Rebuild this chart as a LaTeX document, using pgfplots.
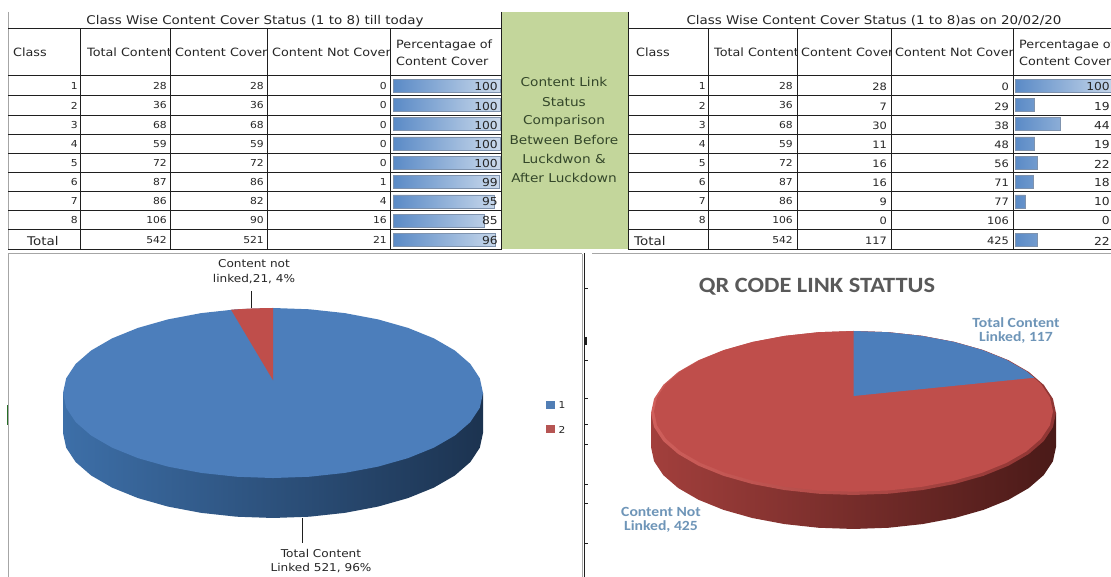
\documentclass[border=0pt]{standalone}
\usepackage{pgfplots}
\pgfplotsset{compat=1.18}
\usepackage{pgfplotstable}
\usepackage{fontspec}
\setmainfont[FakeStretch=1.12]{DejaVu Sans}
\newfontfamily\carl[FakeStretch=1.12]{Carlito}
\definecolor{gridc}{HTML}{1F1F1F}
\definecolor{framec}{HTML}{A6A6A6}
\definecolor{txt}{HTML}{262626}
\definecolor{greenc}{HTML}{C3D69B}
\definecolor{greent}{HTML}{34472A}
\definecolor{bluetop}{HTML}{4C7EBB}
\definecolor{redtop}{HTML}{BF4E4B}
\definecolor{barL}{HTML}{5A8AC6}
\definecolor{barR}{HTML}{CBDAEC}
\definecolor{barD}{HTML}{7F93AE}
\definecolor{lblblue}{HTML}{6E95B8}
\definecolor{sbL}{HTML}{3D6FA8}
\definecolor{sbM}{HTML}{2F5885}
\definecolor{sbR}{HTML}{1C3350}
\definecolor{srL}{HTML}{A23F3C}
\definecolor{srM}{HTML}{7A2F2C}
\definecolor{srR}{HTML}{4A1A18}
\definecolor{rimL}{HTML}{CF5F5B}
\definecolor{rimM}{HTML}{D86E6A}
\definecolor{rimR}{HTML}{8F3533}
\pgfplotstableread{
x y
0 1
0.1736 0.9848
0.3420 0.9397
0.5 0.8660
0.6428 0.7660
0.7660 0.6428
0.8660 0.5
0.9397 0.3420
0.9848 0.1736
1 0
0.9848 -0.1736
0.9397 -0.3420
0.8660 -0.5
0.7660 -0.6428
0.6428 -0.7660
0.5 -0.8660
0.3420 -0.9397
0.1736 -0.9848
0 -1
-0.1736 -0.9848
-0.3420 -0.9397
-0.5 -0.8660
-0.6428 -0.7660
-0.7660 -0.6428
-0.8660 -0.5
-0.9397 -0.3420
-0.9848 -0.1736
-1 0
-0.9848 0.1736
-0.9397 0.3420
-0.8660 0.5
-0.7660 0.6428
-0.6428 0.7660
-0.5 0.8660
-0.3420 0.9397
-0.1736 0.9848
}\unitpie
\pgfplotsset{baraxis/.style={scale only axis,hide axis,xmin=0,ymin=0.5,ymax=9.5,y dir=reverse,anchor=south west,clip=false},
 pieaxis/.style={scale only axis,hide axis,xmin=-1,xmax=1,ymax=1,anchor=south west,clip=false}}
\newcommand\CH[4]{\begin{scope}\clip (#1,#3-10) rectangle (#2,#3+10);\node[anchor=west,inner sep=0pt,font=\fontsize{#4}{#4}\selectfont,text=txt] at (#1,#3) {\CHtext};\end{scope}}
\begin{document}
\begin{tikzpicture}
\path[use as bounding box,fill=white] (0,0) rectangle (1111pt,577pt);
\begin{scope}[shift={(0pt,577pt)},x=1pt,y=-1pt]
 \fill[greenc] (501,12) rectangle (628,249.5);
 % frames
 \draw[framec,line width=.8pt] (8,12)--(8,29) (8,29)--(8,250);
 \draw[framec,line width=.8pt] (8,253)--(582,253) (8,254)--(8,577) (582,254)--(582,577);
 \draw[framec,line width=.8pt] (592,253)--(1111,253);
 \draw[gridc,line width=.8pt] (584,253)--(584,577);
 \draw[gridc,line width=1pt] (501,12)--(501,250) (628,12)--(628,250);
 % table grid
 \foreach \y in {29,76,96,115.5,134.5,153.5,172.5,191.5,210.5,229.5,249.5}{
  \draw[gridc,line width=1pt] (8,\y)--(501,\y);
  \draw[gridc,line width=1pt] (628,\y)--(1111,\y);}
 \foreach \x in {80.5,170.5,267.5,390,708,797,891,1013}{
  \draw[gridc,line width=1pt] (\x,29)--(\x,249.5);}
 % stray ticks
 \foreach \y in {288,360,398,424,444,484,503,543}{\draw[gridc,line width=.7pt] (585,\y)--(588,\y);}
 \draw[gridc,line width=1.2pt] (586,337)--(586,345);
 \fill[black!60!green!70!gray] (6.5,405) rectangle (8,425);
\end{scope}
% percentage bars table 1
\begin{axis}[baraxis,at={(393pt,327.5pt)},width=107pt,height=173.5pt,xmax=100]
\addplot[xbar,bar width=13pt,bar shift=0pt,draw=barD,line width=.5pt,left color=barL,right color=barR] coordinates {(100,1) (100,2) (100,3) (100,4) (100,5) (99,6) (95,7) (85,8) (96,9)};
\end{axis}
% percentage bars table 2
\begin{axis}[baraxis,at={(1015pt,327.5pt)},width=103pt,height=173.5pt,xmax=100]
\addplot[xbar,bar width=13pt,bar shift=0pt,draw=barD,line width=.5pt,left color=barL,right color=barR] coordinates {(100,1) (19,2) (44,3) (19,4) (22,5) (18,6) (10,7) (22,9)};
\end{axis}
% pie 1
\begin{axis}[pieaxis,at={(63pt,59pt)},width=420pt,height=210pt,ymin=-1.47]
\addplot[draw=none,left color=sbL,middle color=sbM,right color=sbR] coordinates {
(-1,0) (-1,-.47) (-.9848,-.6436) (-.9397,-.812) (-.866,-.97) (-.766,-1.1128) (-.6428,-1.236) (-.5,-1.336) (-.342,-1.4097) (-.1736,-1.4548) (0,-1.47)
(.1736,-1.4548) (.342,-1.4097) (.5,-1.336) (.6428,-1.236) (.766,-1.1128) (.866,-.97) (.9397,-.812) (.9848,-.6436) (1,-.47) (1,0)} --cycle;
\addplot[draw=none,fill=bluetop] table[x=x,y=y] {\unitpie} --cycle;
\addplot[draw=none,fill=redtop] coordinates {(0,.15) (0,1) (-.1,.995) (-.2,.98)} --cycle;
\end{axis}
% pie 2
\begin{axis}[pieaxis,at={(651pt,48pt)},width=405pt,height=198pt,ymin=-1.415]
\addplot[draw=none,left color=srL,middle color=srM,right color=srR] coordinates {
(-1,0) (-1,-.415) (-.9848,-.5886) (-.9397,-.757) (-.866,-.915) (-.766,-1.0578) (-.6428,-1.181) (-.5,-1.281) (-.342,-1.3547) (-.1736,-1.3998) (0,-1.415)
(.1736,-1.3998) (.342,-1.3547) (.5,-1.281) (.6428,-1.181) (.766,-1.0578) (.866,-.915) (.9397,-.757) (.9848,-.5886) (1,-.415) (1,0)} --cycle;
\addplot[draw=none,left color=rimL,middle color=rimM,right color=rimR] table[x=x,y=y] {\unitpie} --cycle;
\addplot[draw=none,fill=redtop] table[x expr=\thisrow{x}*0.985,y expr=\thisrow{y}*0.98+0.02] {\unitpie} --cycle;
\addplot[draw=none,fill=bluetop] coordinates {(0,.207) (0,1) (.171,.985) (.337,.941) (.4925,.869) (.633,.771) (.7545,.650) (.853,.510) (.893,.43)} --cycle;
\end{axis}
\begin{scope}[shift={(0pt,577pt)},x=1pt,y=-1pt]
 % titles
 \node[font=\fontsize{12}{12}\selectfont,text=txt,inner sep=0pt] at (255,21) {Class Wise Content Cover Status (1 to 8) till today};
 \node[font=\fontsize{12}{12}\selectfont,text=txt,inner sep=0pt] at (874,21) {Class Wise Content Cover Status (1 to 8)as on 20/02/20};
 % headers
 \def\CHtext{Class}\CH{13}{80}{52}{11.4}
 \def\CHtext{Total Content}\CH{87}{169}{52}{11.4}
 \def\CHtext{Content Cover}\CH{175}{267}{52}{11.4}
 \def\CHtext{Content Not Cover}\CH{272}{389}{52}{11.4}
 \def\CHtext{Percentagae of}\CH{396}{500}{45}{11.4}
 \def\CHtext{Content Cover}\CH{396}{500}{61}{11.4}
 \def\CHtext{Class}\CH{636}{707}{52}{11.4}
 \def\CHtext{Total Content}\CH{714}{796}{52}{11.4}
 \def\CHtext{Content Cover}\CH{801}{890}{52}{11.4}
 \def\CHtext{Content Not Cover}\CH{895}{1012}{52}{11.4}
 \def\CHtext{Percentagae of}\CH{1019}{1111}{45}{11.4}
 \def\CHtext{Content Cover}\CH{1019}{1111}{61}{11.4}
 % table 1 rows
 \foreach \y/\a/\b/\c/\d/\e in {86/1/28/28/0/100,105.5/2/36/36/0/100,125/3/68/68/0/100,144/4/59/59/0/100,163/5/72/72/0/100,182/6/87/86/1/99,201/7/86/82/4/95,220/8/106/90/16/85,240/{}/542/521/21/96}{
  \node[anchor=east,inner sep=0pt,font=\fontsize{9.6}{10}\selectfont,text=txt] at (78,\y) {\a};
  \node[anchor=east,inner sep=0pt,font=\fontsize{9.6}{10}\selectfont,text=txt] at (167,\y) {\b};
  \node[anchor=east,inner sep=0pt,font=\fontsize{9.6}{10}\selectfont,text=txt] at (264,\y) {\c};
  \node[anchor=east,inner sep=0pt,font=\fontsize{9.6}{10}\selectfont,text=txt] at (387,\y) {\d};
  \node[anchor=east,inner sep=0pt,font=\fontsize{11}{12}\selectfont,text=txt] at (498,\y+1) {\e};
 }
 % table 2 rows
 \foreach \y/\a/\b/\c/\d/\e in {86/1/28/28/0/100,105.5/2/36/7/29/19,125/3/68/30/38/44,144/4/59/11/48/19,163/5/72/16/56/22,182/6/87/16/71/18,201/7/86/9/77/10,220/8/106/0/106/0,240/{}/542/117/425/22}{
  \node[anchor=east,inner sep=0pt,font=\fontsize{9.6}{10}\selectfont,text=txt] at (706,\y) {\a};
  \node[anchor=east,inner sep=0pt,font=\fontsize{9.6}{10}\selectfont,text=txt] at (793,\y) {\b};
  \node[anchor=east,inner sep=0pt,font=\fontsize{10.2}{11}\selectfont,text=txt] at (887,\y+1) {\c};
  \node[anchor=east,inner sep=0pt,font=\fontsize{10.2}{11}\selectfont,text=txt] at (1009,\y+1) {\d};
  \node[anchor=east,inner sep=0pt,font=\fontsize{11}{12}\selectfont,text=txt] at (1110,\y+1) {\e};
 }
 \node[anchor=west,inner sep=0pt,font=\fontsize{12}{12}\selectfont,text=txt] at (27,241) {Total};
 \node[anchor=west,inner sep=0pt,font=\fontsize{12}{12}\selectfont,text=txt] at (634,241) {Total};
 % green cell
 \foreach \y/\t in {82/Content Link,102/Status,121/Comparison,140/Between Before,159/Luckdwon \&,178/After Luckdown}{
  \node[font=\fontsize{12.2}{13}\selectfont,text=greent,inner sep=0pt] at (564,\y) {\t};}
 % pie 1 labels
 \draw[gridc,line width=.8pt] (251,291)--(251,308) (302,518)--(302,543);
 \node[font=\fontsize{10.8}{11}\selectfont,text=txt,inner sep=0pt] at (254,264) {Content not};
 \node[font=\fontsize{10.8}{11}\selectfont,text=txt,inner sep=0pt] at (254,279) {linked,21, 4\%};
 \node[font=\fontsize{10.8}{11}\selectfont,text=txt,inner sep=0pt] at (321,553) {Total Content};
 \node[font=\fontsize{10.8}{11}\selectfont,text=txt,inner sep=0pt] at (321,568) {Linked 521, 96\%};
 % legend
 \fill[bluetop!90!gray] (546,401.5) rectangle (555,409);
 \fill[redtop!85!gray] (546,425) rectangle (555,433);
 \node[font=\fontsize{9.5}{10}\selectfont,text=txt,inner sep=0pt] at (562,405.5) {1};
 \node[font=\fontsize{9.5}{10}\selectfont,text=txt,inner sep=0pt] at (562,429.5) {2};
 % pie 2 labels
 \node[font=\carl\bfseries\fontsize{21.8}{22}\selectfont,text=black!65,inner sep=0pt] at (817,287) {QR CODE LINK STATTUS};
 \node[font=\carl\bfseries\fontsize{14}{15}\selectfont,text=lblblue,inner sep=0pt] at (1016,323) {Total Content};
 \node[font=\carl\bfseries\fontsize{14}{15}\selectfont,text=lblblue,inner sep=0pt] at (1016,338) {Linked, 117};
 \node[font=\carl\bfseries\fontsize{14}{15}\selectfont,text=lblblue,inner sep=0pt] at (661,512) {Content Not};
 \node[font=\carl\bfseries\fontsize{14}{15}\selectfont,text=lblblue,inner sep=0pt] at (661,527) {Linked, 425};
\end{scope}
\end{tikzpicture}
\end{document}
